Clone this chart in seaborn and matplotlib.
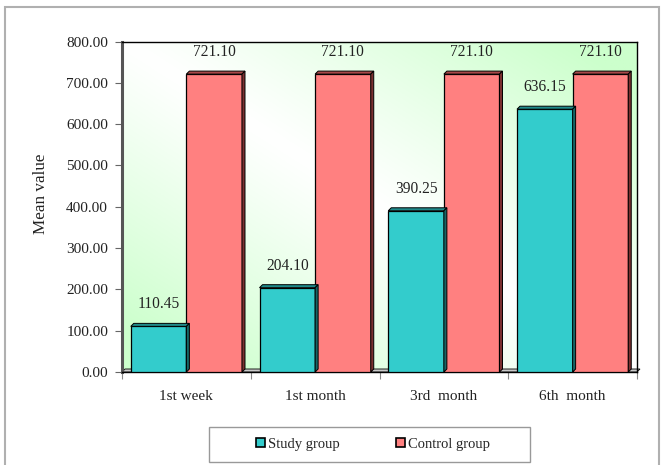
import numpy as np
import pandas as pd
import matplotlib
matplotlib.use("Agg")
import matplotlib.pyplot as plt
from matplotlib.patches import Polygon, Rectangle, Patch
import seaborn as sns

periods = ["1st week", "1st month", "3rd  month", "6th  month"]
groups = ["Study group", "Control group"]
study_values = [110.45, 204.10, 390.25, 636.15]
control_values = [721.10, 721.10, 721.10, 721.10]
yticks = [0, 100, 200, 300, 400, 500, 600, 700, 800]

cyan = "#33CCCC"
red = "#FF8080"
top_cols = {cyan: "#1f8a8a", red: "#a84848"}
side_cols = {cyan: "#166666", red: "#7a3030"}

df = pd.DataFrame({
    "period": periods * 2,
    "group": [groups[0]] * 4 + [groups[1]] * 4,
    "value": study_values + control_values,
})

sns.set_theme(style="white")
plt.rcParams["font.family"] = ["Liberation Serif", "DejaVu Serif"]

W, H = 666, 465
fig = plt.figure(figsize=(W / 100, H / 100), dpi=100)
ax = fig.add_axes([122 / W, 1 - 372 / H, 515 / W, (372 - 41.5) / H])

sns.barplot(data=df, x="period", y="value", hue="group", hue_order=groups,
            order=periods, palette=[cyan, red], saturation=1, width=0.864,
            edgecolor="black", linewidth=0.9, legend=False, ax=ax, zorder=3)

ax.set_xlim(-0.5, 3.5)
ax.set_ylim(0, 800)

# gradient background (white band along one diagonal, green corners)
u, v = np.meshgrid(np.linspace(0, 1, 200), np.linspace(1, 0, 200))
g = np.clip(np.abs(u + v - 1) * 1.15, 0, 1) ** 1.1
green = np.array([0.80, 1.0, 0.80])
img = (1 - g[..., None]) * np.array([1.0, 1.0, 1.0]) + g[..., None] * green
ax.imshow(img, extent=[-0.5, 3.5, 0, 800], aspect="auto", zorder=0)

# pseudo 3D depth, derived from pixel size
px_x = 4.0 / 515
px_y = 800 / 330.5
dx, dy = 3 * px_x, 3 * px_y

# floor plate
ax.add_patch(Polygon([(-0.5, 0), (3.5, 0), (3.5 + dx, dy), (-0.5 + dx, dy)],
                     closed=True, facecolor="#c8c8c8", edgecolor="black",
                     lw=0.6, zorder=1, clip_on=False))

for bar in list(ax.patches):
    if not isinstance(bar, matplotlib.patches.Rectangle) or bar.get_height() <= 0:
        continue
    x0 = bar.get_x()
    x1 = x0 + bar.get_width()
    h = bar.get_height()
    fc = matplotlib.colors.to_hex(bar.get_facecolor()).upper()
    fc = cyan if fc == cyan.upper() else red
    ax.add_patch(Polygon([(x0, h), (x1, h), (x1 + dx, h + dy), (x0 + dx, h + dy)],
                         closed=True, facecolor=top_cols[fc], edgecolor="black",
                         lw=0.7, zorder=4, clip_on=False))
    ax.add_patch(Polygon([(x1, 0), (x1 + dx, dy), (x1 + dx, h + dy), (x1, h)],
                         closed=True, facecolor=side_cols[fc], edgecolor="black",
                         lw=0.7, zorder=4, clip_on=False))

for cont in ax.containers:
    ax.bar_label(cont, labels=[f"{b.get_height():.2f}" for b in cont],
                 padding=10, fontsize=11.2, color="#222222", zorder=5)

# axes styling
for s in ["left", "bottom", "top", "right"]:
    ax.spines[s].set_visible(True)
    ax.spines[s].set_color("black")
    ax.spines[s].set_linewidth(1.0)
ax.spines["left"].set_linewidth(2.2)
ax.spines["left"].set_color("#555555")

ax.set_yticks(yticks)
ax.set_yticklabels([f"{t:.2f}" for t in yticks], fontsize=11)
ax.tick_params(axis="y", left=True, length=5, width=0.8, color="#666666",
               pad=5, labelcolor="#222222")

ax.set_xticks(np.arange(-0.5, 4, 1))
ax.set_xticklabels([])
ax.set_xticks(range(len(periods)), minor=True)
ax.set_xticklabels(periods, minor=True, fontsize=11, color="#222222")
ax.tick_params(axis="x", which="major", bottom=True, length=5, width=0.8,
               color="#888888")
ax.tick_params(axis="x", which="minor", bottom=False, length=0, pad=13)

ax.set_xlabel("")
ax.set_ylabel("Mean value", fontsize=12.3, color="#222222")
ax.yaxis.set_label_coords(-0.142, 0.54)

# legend
handles = [Patch(facecolor=cyan, edgecolor="black", lw=1.2),
           Patch(facecolor=red, edgecolor="black", lw=1.2)]
fig.legend(handles, groups, loc="center", bbox_to_anchor=(373 / W, 1 - 444 / H),
           ncol=2, frameon=False, handlelength=0.6, handleheight=0.6,
           handletextpad=0.2, columnspacing=3.9, prop={"size": 10.5})
fig.add_artist(Rectangle((209 / W, 1 - 462 / H), 321 / W, 35 / H,
                         transform=fig.transFigure, fill=False,
                         edgecolor="#999999", lw=1.0))

# outer chart border
fig.add_artist(Rectangle((5 / W, -0.05), 654 / W, 1.05 - 7 / H,
                         transform=fig.transFigure, fill=False,
                         edgecolor="#b0b0b0", lw=1.5))

fig.savefig("out.png", dpi=100)
